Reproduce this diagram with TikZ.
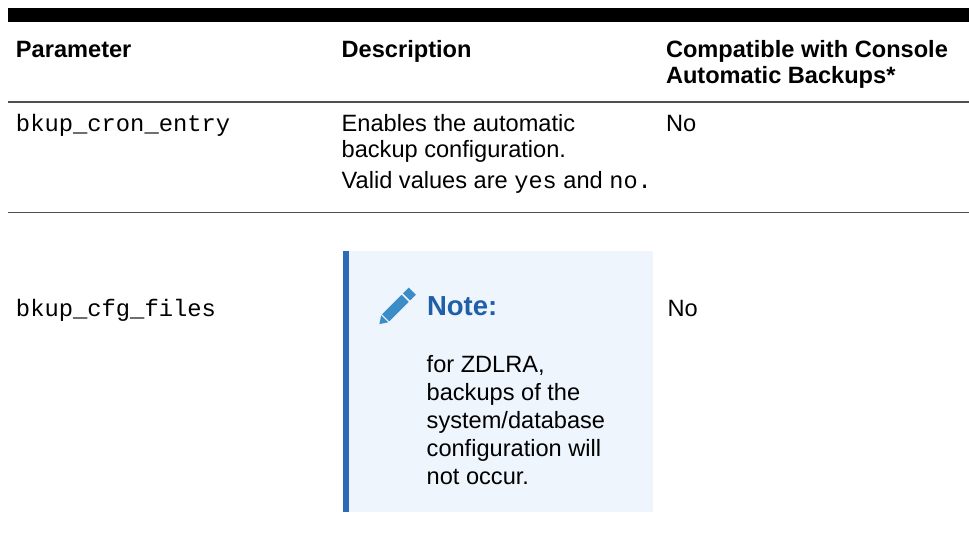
\documentclass[tikz,border=0pt]{standalone}
\usepackage{fontspec}
\setmainfont{Liberation Sans}
\setmonofont{Liberation Mono}
\definecolor{rulegray}{HTML}{505050}
\definecolor{notebg}{HTML}{EEF5FD}
\definecolor{notebar}{HTML}{2B6CB5}
\definecolor{notetitle}{HTML}{1F5FA8}
\definecolor{pencil}{HTML}{3A8DC6}
\tikzset{
  txt/.style={anchor=base west, inner sep=0pt, outer sep=0pt, font=\fontsize{23.6}{28}\selectfont, text=black},
  hdr/.style={txt, font=\fontsize{23.6}{28}\selectfont\bfseries},
  code/.style={txt, font=\fontsize{23.8}{28}\selectfont\ttfamily},
  rulel/.style={draw=rulegray, line width=1.4pt},
}
\begin{document}
\begin{tikzpicture}[x=1pt,y=-1pt]
\useasboundingbox (0,0) rectangle (969,543);
\fill[white] (0,0) rectangle (969,543);
% top bar
\fill[black] (8,8) rectangle (969,22.3);
% rules
\coordinate (r1a) at (8,102); \coordinate (r1b) at (969,102);
\coordinate (r2a) at (8,212.3); \coordinate (r2b) at (969,212.3);
\draw[rulel] (r1a) -- (r1b);
\draw[rulel] (r2a) -- (r2b);
% header
\node[hdr] (hp) at (16,57.3) {Parameter};
\node[hdr] (hd) at (341.7,57.3) {Description};
\node[hdr] (hc1) at (666,57.3) {Compatible with Console};
\node[hdr] (hc2) at (666,84) {Automatic Backups*};
% row 1
\node[code] (p1) at (16,131.7) {bkup\_cron\_entry};
\node[txt] (d1a) at (341.7,131.7) {Enables the automatic};
\node[txt] (d1b) at (341.7,157.7) {backup configuration.};
\node[txt] (d1c) at (341.7,188.3) {Valid values are {\ttfamily yes} and {\ttfamily no.}};
\node[txt] (c1) at (666,131.7) {No};
% row 2
\node[code] (p2) at (16,316.3) {bkup\_cfg\_files};
\node[txt] (c2) at (667.5,316.3) {No};
% note box
\fill[notebg] (343.3,251) rectangle (652.7,511.7);
\fill[notebar] (343.3,251) rectangle (349.3,511.7);
% pencil
\begin{scope}[shift={(396,307.5)}, rotate=45]
  \fill[pencil] (-23.5pt,0pt) -- (-16pt,-5pt) -- (-16pt,5pt) -- cycle;
  \fill[pencil] (-14.5pt,-5pt) rectangle (13pt,5pt);
  \fill[pencil] (15pt,-5pt) rectangle (23pt,5pt);
\end{scope}
\node[hdr, font=\fontsize{27.5}{32}\selectfont\bfseries, text=notetitle] (nt) at (427,315.3) {Note:};
\node[txt] (n1) at (426.7,372.7) {for ZDLRA,};
\node[txt] (n2) at (426.7,400) {backups of the};
\node[txt] (n3) at (426.7,428.3) {system/database};
\node[txt] (n4) at (426.7,456.3) {configuration will};
\node[txt] (n5) at (426.7,484.7) {not occur.};
\end{tikzpicture}
\end{document}
